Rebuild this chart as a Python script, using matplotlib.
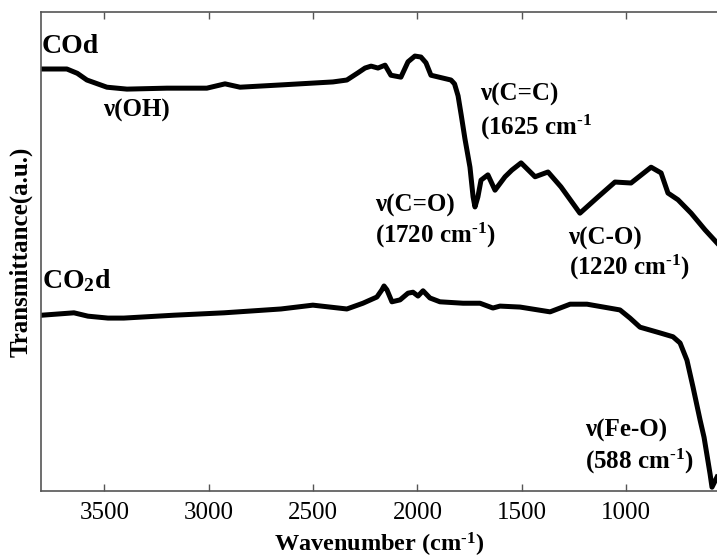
import numpy as np
import matplotlib
matplotlib.use("Agg")
import matplotlib.pyplot as plt

plt.rcParams['font.family'] = ['Liberation Serif', 'DejaVu Serif']
plt.rcParams['mathtext.fontset'] = 'custom'
plt.rcParams['mathtext.rm'] = 'Liberation Serif:bold'
plt.rcParams['mathtext.bf'] = 'Liberation Serif:bold'
plt.rcParams['mathtext.it'] = 'Liberation Serif:bold'

# COd spectrum (wavenumber, transmittance a.u.)
cod_wn = [3800, 3680, 3630, 3584, 3488, 3392, 3200, 3009, 2922, 2850, 2644, 2405, 2338,
          2285, 2251, 2222, 2189, 2155, 2127, 2079, 2045, 2012, 1983, 1959, 1935,
          1839, 1822, 1805, 1790, 1772, 1748, 1733, 1724, 1710, 1695, 1662, 1628, 1580,
          1547, 1503, 1436, 1374, 1312, 1221, 1134, 1053, 976, 880, 832, 799, 751,
          688, 621, 564]
cod_t = [88.1, 88.1, 87.2, 85.8, 84.3, 83.9, 84.1, 84.1, 85.0, 84.3, 84.8, 85.4, 85.8,
         87.3, 88.3, 88.7, 88.3, 88.9, 86.8, 86.4, 89.6, 90.8, 90.6, 89.4, 86.8,
         85.8, 85.0, 82.5, 78.5, 73.5, 67.6, 61.4, 59.3, 61.4, 64.9, 66.0, 62.8, 65.6,
         67.0, 68.5, 65.6, 66.6, 63.5, 58.0, 61.4, 64.5, 64.3, 67.6, 66.4, 62.2, 60.8,
         58.0, 54.5, 51.8]

# CO2d spectrum
co2d_wn = [3800, 3646, 3579, 3483, 3407, 3167, 2927, 2654, 2501, 2338, 2261, 2194,
           2170, 2160, 2146, 2122, 2083, 2045, 2021, 1997, 1973, 1940, 1892, 1781,
           1700, 1638, 1604, 1508, 1364, 1268, 1187, 1029, 981, 933, 837, 775, 741,
           708, 679, 645, 626, 612, 597, 588, 564]
co2d_t = [36.7, 37.2, 36.5, 36.1, 36.1, 36.7, 37.2, 38.0, 38.8, 38.0, 39.2, 40.5,
          42.0, 42.8, 42.0, 39.5, 39.9, 41.3, 41.5, 40.7, 41.8, 40.3, 39.5, 39.2,
          39.2, 38.2, 38.6, 38.4, 37.4, 39.0, 39.0, 37.8, 36.1, 34.2, 33.0, 32.2, 30.9,
          27.3, 21.7, 14.8, 11.2, 7.5, 3.5, 0.8, 2.9]

xticks = [3500, 3000, 2500, 2000, 1500, 1000]

fig = plt.figure(figsize=(7.17, 5.59), dpi=100)
ax = fig.add_axes([41 / 717, 68 / 559, 1 - 41 / 717, 479 / 559])

ax.plot(cod_wn, cod_t, color='black', lw=3.6, solid_joinstyle='round')
ax.plot(co2d_wn, co2d_t, color='black', lw=3.6, solid_joinstyle='round')

ax.set_xlim(3804, 564)
ax.set_ylim(0, 100)
ax.set_xticks(xticks)
ax.set_yticks([])
ax.tick_params(axis='x', direction='in', length=5, width=1, color='#555555',
               labelsize=18, pad=8, top=True)
for side in ['left', 'bottom', 'top']:
    ax.spines[side].set_color('#555555')
    ax.spines[side].set_linewidth(1.2)
ax.spines['right'].set_visible(False)

ax.set_xlabel(r'Wavenumber (cm$^{\text{-1}}$)', fontsize=17.5, fontweight='bold', labelpad=5)
ax.set_ylabel('Transmittance(a.u.)', fontsize=18, fontweight='bold', labelpad=6)

lab = dict(fontsize=18, fontweight='bold', ha='left', va='center')
ax.text(3800, 92.7, 'COd', fontsize=20, fontweight='bold', ha='left', va='center')
ax.text(3800, 44.0, 'CO$_2$d', fontsize=20, fontweight='bold', ha='left', va='center')
ax.text(3507, 79.5, 'ν(OH)', **lab)
ax.text(1700, 82.7, 'ν(C=C)', **lab)
ax.text(1700, 76.0, r'(1625 cm$^{\text{-1}}$', **lab)
ax.text(2203, 59.7, 'ν(C=O)', **lab)
ax.text(2203, 53.4, r'(1720 cm$^{\text{-1}}$)', **lab)
ax.text(1278, 52.8, 'ν(C-O)', **lab)
ax.text(1273, 46.6, r'(1220 cm$^{\text{-1}}$)', **lab)
ax.text(1197, 12.7, 'ν(Fe-O)', **lab)
ax.text(1197, 6.1, r'(588 cm$^{\text{-1}}$)', **lab)

fig.savefig('out.png', dpi=100)
